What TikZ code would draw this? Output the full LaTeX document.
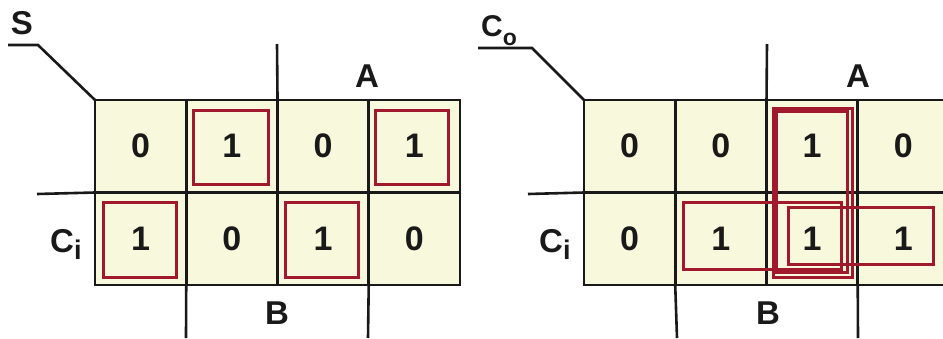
\documentclass[tikz,border=0pt]{standalone}
\usepackage{fontspec}
\setmainfont{Liberation Sans}
\definecolor{cellfill}{RGB}{248,248,220}
\definecolor{boxred}{RGB}{160,25,44}
\definecolor{ink}{RGB}{25,25,25}
\begin{document}
\begin{tikzpicture}[x=1pt,y=-1pt,
  cell/.style={draw=ink,line width=2.6pt,fill=cellfill,rectangle,inner sep=0pt,
    minimum width=91.25pt,minimum height=92.5pt,outer sep=0pt,
    font=\fontsize{34}{34}\selectfont\bfseries,text=ink},
  lbl/.style={inner sep=0pt,font=\fontsize{33}{33}\selectfont\bfseries,text=ink},
  rule/.style={draw=ink,line width=2.6pt},
  grp/.style={draw=boxred,line width=3pt}]
\useasboundingbox (0,0) rectangle (943,338);
\clip (0,0) rectangle (943,338);
% ---------- map S ----------
\node[cell] (s11) at (140.6,146.25) {0};
\node[cell] (s12) at (231.9,146.25) {1};
\node[cell] (s13) at (323.1,146.25) {0};
\node[cell] (s14) at (414.4,146.25) {1};
\node[cell] (s21) at (140.6,238.75) {1};
\node[cell] (s22) at (231.9,238.75) {0};
\node[cell] (s23) at (323.1,238.75) {1};
\node[cell] (s24) at (414.4,238.75) {0};
\node[lbl] (sS) at (22,23) {S};
\node[lbl] (sA) at (367,76) {A};
\node[lbl] (sB) at (277,313) {B};
\node[lbl,anchor=base west] (sC) at (50,252) {C\raisebox{-7pt}{\fontsize{27}{27}\selectfont i}};
\coordinate (sa) at (8,45);
\coordinate (sb) at (38,45);
\coordinate (sv) at (277,44);
\coordinate (sh) at (37,194);
\coordinate (sd1) at (186,338);
\coordinate (sd2) at (368,338);
\draw[rule] (sa) -- (sb) -- (s11.north west);
\draw[rule] (sv) -- (s12.north east);
\draw[rule] (sh) -- (s11.south west);
\draw[rule] (s21.south east) -- (sd1);
\draw[rule] (s23.south east) -- (sd2);
\draw[grp] (193,110) rectangle (268,184);
\draw[grp] (375,110) rectangle (448,184);
\draw[grp] (103,202) rectangle (176,277);
\draw[grp] (285,202) rectangle (358,277);
% ---------- map Co ----------
\node[cell] (c11) at (629.6,146.25) {0};
\node[cell] (c12) at (720.9,146.25) {0};
\node[cell] (c13) at (812.1,146.25) {1};
\node[cell] (c14) at (903.4,146.25) {0};
\node[cell] (c21) at (629.6,238.75) {0};
\node[cell] (c22) at (720.9,238.75) {1};
\node[cell] (c23) at (812.1,238.75) {1};
\node[cell] (c24) at (903.4,238.75) {1};
\node[lbl,anchor=base west] (cC) at (481,36) {\fontsize{30}{30}\selectfont C\raisebox{-9pt}{\fontsize{23}{23}\selectfont o}};
\node[lbl] (cA) at (858,76) {A};
\node[lbl] (cB) at (768,313) {B};
\node[lbl,anchor=base west] (cCi) at (539,252) {C\raisebox{-7pt}{\fontsize{27}{27}\selectfont i}};
\coordinate (ca) at (478,48);
\coordinate (cb) at (532,48);
\coordinate (cv) at (767,44);
\coordinate (ch) at (528,194);
\coordinate (cd1) at (677,338);
\coordinate (cd2) at (858,338);
\draw[rule] (ca) -- (cb) -- (c11.north west);
\draw[rule] (cv) -- (c12.north east);
\draw[rule] (ch) -- (c11.south west);
\draw[rule] (c21.south east) -- (cd1);
\draw[rule] (c23.south east) -- (cd2);
\draw[grp] (773,108) rectangle (852,277);
\draw[grp,line width=2.4pt] (776.5,111.5) rectangle (847.5,272.5);
\draw[grp] (683,202) rectangle (841,269);
\draw[grp] (788,207) rectangle (933,264);
\end{tikzpicture}
\end{document}
